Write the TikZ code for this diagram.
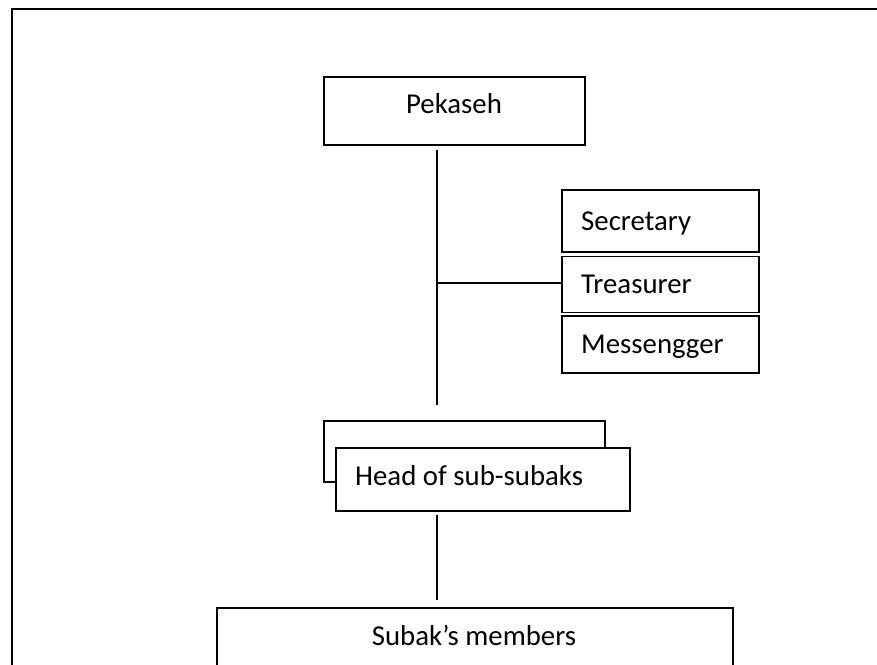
\documentclass[tikz,border=0pt]{standalone}
\usepackage{fontspec}
\setmainfont{Carlito}
\begin{document}
\begin{tikzpicture}[x=1pt,y=-1pt,
  box/.style={draw=black,line width=1.6pt,fill=white,rectangle,inner sep=0pt,anchor=north west},
  txt/.style={inner sep=0pt,font=\fontsize{28.8}{34}\selectfont},
  conn/.style={draw=black,line width=1.6pt}]
\useasboundingbox (0,0) rectangle (877,664);
\clip (0,0) rectangle (877,664);
% outer frame (cut at right and bottom)
\draw[line width=2pt] (11.5,700) -- (11.5,8.5) -- (900,8.5);
% boxes
\node[box,minimum width=261,minimum height=68] (pek) at (323,76) {};
\node[box,minimum width=197,minimum height=62] (sec) at (561,189) {};
\node[box,minimum width=197,minimum height=56] (tre) at (561,255.5) {};
\node[box,minimum width=197,minimum height=57] (mes) at (561,315) {};
\node[box,minimum width=281,minimum height=61] (back) at (323,420) {};
\node[box,minimum width=294,minimum height=63] (front) at (335,447) {};
\node[box,minimum width=516,minimum height=90] (mem) at (216,607) {};
% texts
\node[txt,anchor=base] (tpek) at (454,113.5) {Pekaseh};
\node[txt,anchor=base west] (tsec) at (581,230) {Secretary};
\node[txt,anchor=base west] (ttre) at (581,293) {Treasurer};
\node[txt,anchor=base west] (tmes) at (581,353) {Messengger};
\node[txt,anchor=base west] (thead) at (355,485) {Head of sub-subaks};
\node[txt,anchor=base] (tmem) at (474,645) {Subak’s members};
% connectors
\coordinate (j) at (437,283);
\draw[conn,shorten <=4pt,shorten >=15pt] (j |- pek.south) -- (j |- back.north);
\draw[conn] (j) -- (j -| tre.west);
\draw[conn,shorten <=3pt,shorten >=7pt] (j |- front.south) -- (j |- mem.north);
\end{tikzpicture}
\end{document}
